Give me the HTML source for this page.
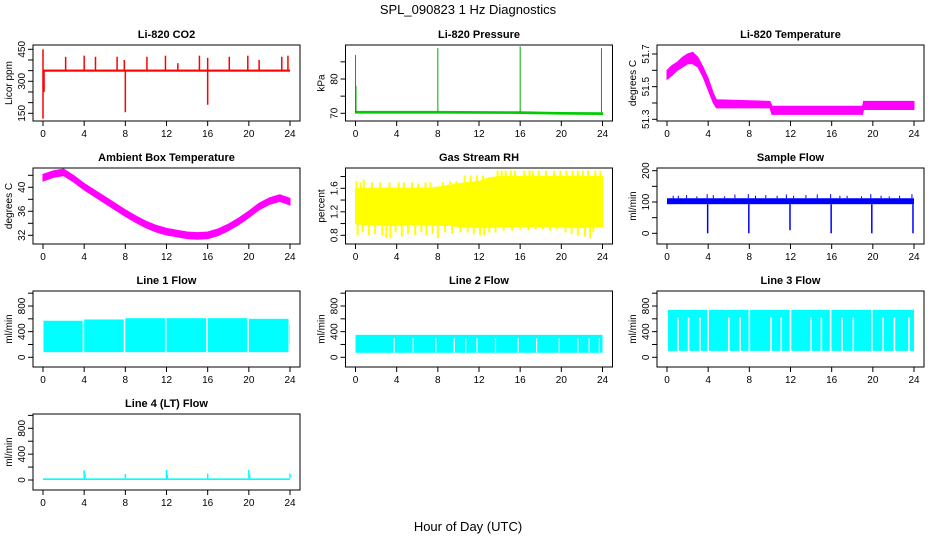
<!DOCTYPE html>
<html><head><meta charset="utf-8"><style>
html,body{margin:0;padding:0;background:#fff;}
svg{display:block;font-family:"Liberation Sans",Arial,sans-serif;}
</style></head><body>
<svg id="chart" width="936" height="540" viewBox="0 0 936 540" xmlns="http://www.w3.org/2000/svg">
<text x="468" y="14" text-anchor="middle" font-size="13">SPL_090823  1 Hz Diagnostics</text>
<text x="468" y="531" text-anchor="middle" font-size="13">Hour of Day (UTC)</text>
</svg>
<script>
// ---- data ----
const xTicks = [0,4,8,12,16,20,24];
// CO2
const co2Base = 350;
const co2UpHours = [0,2.2,4.0,5.1,7.2,7.9,10.1,11.9,13.1,15.2,16.0,18.1,19.9,21.0,23.2,23.8];
const co2UpValues = [450,415,420,415,415,400,415,420,385,420,410,415,420,400,415,420];
const co2DownHours = [0,0.1,8.0,16.0];
const co2DownValues = [125,250,155,190];
// Pressure
const presBase = [70.3,70.3,70.2,70.0,69.9];
const presBaseHours = [0,8,16,20,24];
const presSpikeHours = [0,0.05,8,16,23.9];
const presSpikeValues = [87,78,89,89.5,89];
// Li-820 temperature
const tempHours = [0,0.5,1,1.5,2,2.5,3,3.5,4,4.5,4.8,10,10.2,19,19.1,24];
const tempLo = [51.545,51.57,51.6,51.62,51.64,51.64,51.62,51.56,51.48,51.4,51.37,51.37,51.33,51.33,51.36,51.36];
const tempHi = [51.6,51.63,51.65,51.68,51.7,51.71,51.68,51.62,51.55,51.46,51.42,51.41,51.38,51.38,51.41,51.41];
// Ambient box temperature
const ambHours = [0,1,2,3,4,5,6,7,8,9,10,11,12,13,14,15,16,17,18,19,20,21,22,23,24];
const ambTemp = [41.6,42.2,42.5,41.4,40.1,39,37.9,36.8,35.7,34.7,33.8,33.1,32.6,32.3,32.0,31.9,32.0,32.5,33.3,34.3,35.5,36.8,37.7,38.2,37.6];
// RH
const rhHours = [0,1,2,3,4,5,6,7,8,9,10,11,12,13,14,15,16,17,18,19,20,21,22,23,24];
const rhCoreLo = [1.0,0.98,0.98,0.97,0.97,0.98,0.98,0.98,0.97,0.97,0.95,0.94,0.93,0.93,0.95,0.95,0.95,0.95,0.95,0.95,0.95,0.93,0.93,0.95,0.95];
const rhCoreHi = [1.6,1.6,1.6,1.6,1.6,1.6,1.6,1.6,1.62,1.65,1.68,1.7,1.72,1.78,1.8,1.8,1.8,1.8,1.8,1.8,1.8,1.8,1.8,1.8,1.8];
const rhUpHours = [0.1,0.5,0.8,1.6,2.4,3.3,4.2,4.7,5.5,6.1,6.8,7.3,8.5,9.2,9.8,10.6,11.2,11.8,12.4,13.8,14.2,14.6,15.1,15.5,16.4,16.9,17.2,17.8,18.5,19.3,19.9,20.5,21.1,21.6,22.1,22.6,23.3,23.8];
const rhUpValues = [1.72,1.7,1.75,1.7,1.7,1.7,1.7,1.7,1.7,1.68,1.7,1.7,1.7,1.72,1.72,1.82,1.82,1.82,1.82,1.9,1.9,1.9,1.9,1.9,1.9,1.9,1.9,1.9,1.9,1.9,1.9,1.9,1.9,1.9,1.9,1.9,1.9,1.9];
const rhDownHours = [0.2,0.7,1.3,1.9,2.6,3.0,3.4,3.9,4.5,5.1,5.8,6.4,6.9,7.5,8.0,8.7,9.4,10.2,10.9,11.5,12.1,12.5,13.0,13.6,14.4,15.2,16.0,16.8,17.5,18.2,18.9,19.6,20.4,21.0,21.6,22.3,22.8,23.1];
const rhDownValues = [0.8,0.85,0.8,0.82,0.8,0.75,0.75,0.85,0.78,0.82,0.8,0.85,0.8,0.82,0.75,0.85,0.82,0.85,0.85,0.82,0.8,0.8,0.85,0.85,0.88,0.88,0.9,0.88,0.9,0.9,0.88,0.9,0.85,0.82,0.8,0.78,0.75,0.85];
// Sample flow
const sfLo = 93, sfHi = 112;
const sfUpHours = [0.6,1.1,1.9,2.9,3.9,4.5,5.6,6.6,7.9,8.6,9.6,10.7,11.6,12.3,13.5,14.6,15.9,16.8,17.5,18.9,19.8,20.8,21.6,22.6,23.8];
const sfUpValues = [120,120,122,118,125,122,118,124,125,120,122,120,124,120,122,124,125,120,120,118,125,120,118,120,125];
const sfDropHours = [3.95,7.95,11.95,15.95,19.9,23.9];
const sfDropValues = [0,0,10,0,0,0];
// Line 1
const l1Start = [0.05,4.0,8.0,12.0,16.0,20.0,23.95];
const l1End = [3.85,7.85,11.85,15.85,19.85,23.85,24.0];
const l1Hi = [570,590,610,610,610,600,510];
const l1Lo = 80;
// Line 2
const l2Gaps = [3.75,5.6,7.8,9.6,10.7,11.8,13.6,15.8,17.6,19.8,21.6,22.7,23.7];
const l2Hi = 350, l2Lo = 70;
// Line 3
const l3Gaps = [1.07,2.1,3.2,4.0,6.0,7.1,8.0,10.1,11.1,12.0,14.0,15.0,15.9,17.0,18.1,19.9,21.0,22.1,23.5];
const l3Full = [4.0,8.0,12.0,15.9,19.9];
const l3Hi = 740, l3Lo = 100;
// Line 4
const l4Base = 25;
const l4SpikeHours = [4,4.08,8,12,12.08,16,20,20.08,24];
const l4SpikeValues = [150,90,95,155,80,100,155,85,100];

// ---- layout ----
const svg = document.getElementById('chart');
const NS = 'http://www.w3.org/2000/svg';
const colLeft = [33,345.5,657];
const rowTop = [45,168,291,414];
const BW = 267, BH = 76;
function mk(tag, attrs, parent){
  const e = document.createElementNS(NS, tag);
  for (const k in attrs) e.setAttribute(k, attrs[k]);
  (parent||svg).appendChild(e);
  return e;
}
function makePanel(id, col, row, title, ylab, cal, yTicks, yLabels){
  const g = mk('g', {});
  
  
  const L = colLeft[col], T = rowTop[row];
  const X = h => L + 10 + h * 247 / 24;
  const Y = v => cal[1] + (v - cal[0]) * (cal[3] - cal[1]) / (cal[2] - cal[0]);
  const t = mk('text', {x: L + BW/2, y: T - 7, 'text-anchor':'middle', 'font-size':11, 'font-weight':'bold'}, g);
  t.textContent = title;
  
  
  const yl = mk('text', {transform:`translate(${L-21},${T+BH/2}) rotate(-90)`, 'text-anchor':'middle', 'font-size':10}, g);
  yl.textContent = ylab;
  
  
  const plot = mk('g', {}, g);
  
  
  const axes = mk('g', {stroke:'#000', 'stroke-width':1, fill:'none'}, g);
  
  
  mk('rect', {x:L, y:T, width:BW, height:BH}, axes);
  xTicks.forEach(h => {
    mk('line', {x1:X(h), y1:T+BH, x2:X(h), y2:T+BH+5}, axes);
    const tx = mk('text', {x:X(h), y:T+BH+16, 'text-anchor':'middle', 'font-size':10, stroke:'none', fill:'#000'}, g);
    tx.textContent = h;
    
    
  });
  yTicks.forEach(v => {
    mk('line', {x1:L-5, y1:Y(v), x2:L, y2:Y(v)}, axes);
  });
  yLabels.forEach(v => {
    const ty = mk('text', {transform:`translate(${L-8},${Y(v)}) rotate(-90)`, 'text-anchor':'middle', 'font-size':10, fill:'#000'}, g);
    ty.textContent = v;
    
    
  });
  return {plot, X, Y};
}
function vline(p, h, v1, v2, color, w){
  const l = mk('line', {x1:p.X(h), x2:p.X(h), y1:p.Y(v1), y2:p.Y(v2), stroke:color, 'stroke-width':w||1.2}, p.plot);
  
  
}
function band(p, hs, lo, hi, color){
  let pts = hs.map((h,i) => p.X(h)+','+p.Y(hi[i]));
  for (let i = hs.length-1; i >= 0; i--) pts.push(p.X(hs[i])+','+p.Y(lo[i]));
  const pg = mk('polygon', {points: pts.join(' '), fill:color, stroke:color, 'stroke-width':1}, p.plot);
  
  
}
function rectBand(p, h1, h2, lo, hi, color){
  const r = mk('rect', {x:p.X(h1), y:p.Y(hi), width:p.X(h2)-p.X(h1), height:p.Y(lo)-p.Y(hi), fill:color}, p.plot);
  
  
}

// CO2
let p = makePanel('co2', 0, 0, 'Li-820 CO2', 'Licor ppm', [150,113.3,450,49.3], [150,200,250,300,350,400,450], [150,300,450]);
rectBand(p, 0, 24, co2Base-5, co2Base+5, '#ff0000');
co2UpHours.forEach((h,i) => vline(p, h, co2Base, co2UpValues[i], '#ff0000', 1.5));
co2DownHours.forEach((h,i) => vline(p, h, co2Base, co2DownValues[i], '#ff0000', 1.5));

// Pressure
p = makePanel('pressure', 1, 0, 'Li-820 Pressure', 'kPa', [70,113.3,80,79], [70,75,80,85], [70,80]);
band(p, presBaseHours, presBase.map(v=>v-0.25), presBase.map(v=>v+0.25), '#00cc00');
presSpikeHours.forEach((h,i) => vline(p, h, presBase[0], presSpikeValues[i], '#00aa00', 1));

// Li-820 temperature
p = makePanel('li820-temp', 2, 0, 'Li-820 Temperature', 'degrees C', [51.3,119.3,51.7,54], [51.3,51.4,51.5,51.6,51.7], [51.3,51.5,51.7]);
band(p, tempHours, tempLo, tempHi, '#ff00ff');

// Ambient
p = makePanel('ambient-temp', 0, 1, 'Ambient Box Temperature', 'degrees C', [32,235.3,40,187.3], [32,34,36,38,40,42], [32,36,40]);
band(p, ambHours, ambTemp.map(v=>v-0.55), ambTemp.map(v=>v+0.55), '#ff00ff');

// RH
p = makePanel('rh', 1, 1, 'Gas Stream RH', 'percent', [0.8,235.3,1.6,188.3], [0.8,1.0,1.2,1.4,1.6,1.8], [0.8,1.2,1.6]);
band(p, rhHours, rhCoreLo, rhCoreHi, '#ffff00');
rhUpHours.forEach((h,i) => vline(p, h, 1.4, rhUpValues[i], '#ffff00', 2));
rhDownHours.forEach((h,i) => vline(p, h, 1.2, rhDownValues[i], '#ffff00', 2));

// Sample flow
p = makePanel('sample-flow', 2, 1, 'Sample Flow', 'ml/min', [0,233.3,200,170.7], [0,50,100,150,200], [0,100,200]);
rectBand(p, 0, 24, sfLo, sfHi, '#0000ff');
sfUpHours.forEach((h,i) => vline(p, h, sfHi, sfUpValues[i], '#0000ff', 1));
sfDropHours.forEach((h,i) => vline(p, h, sfLo, sfDropValues[i], '#0000ff', 1.5));

// Line 1
p = makePanel('line1-flow', 0, 2, 'Line 1 Flow', 'ml/min', [0,357.3,800,306], [0,200,400,600,800,1000], [0,400,800]);
l1Start.forEach((s,i) => rectBand(p, s, l1End[i], (i===l1Start.length-1)?200:l1Lo, l1Hi[i], '#00ffff'));

// Line 2
p = makePanel('line2-flow', 1, 2, 'Line 2 Flow', 'ml/min', [0,357.3,800,306], [0,200,400,600,800,1000], [0,400,800]);
rectBand(p, 0, 24, l2Lo, l2Hi, '#00ffff');
l2Gaps.forEach(g => {
  const r = mk('rect', {x:p.X(g)-0.6, y:p.Y(300), width:1.2, height:p.Y(l2Lo-5)-p.Y(300), fill:'#fff'}, p.plot);
  
  
});

// Line 3
p = makePanel('line3-flow', 2, 2, 'Line 3 Flow', 'ml/min', [0,357.3,800,306], [0,200,400,600,800,1000], [0,400,800]);
rectBand(p, 0.1, 24, l3Lo, l3Hi, '#00ffff');
l3Gaps.forEach(g => {
  const top = l3Full.includes(g) ? l3Hi + 10 : 620;
  const r = mk('rect', {x:p.X(g)-0.8, y:p.Y(top), width:1.6, height:p.Y(l3Lo-5)-p.Y(top), fill:'#fff'}, p.plot);
  
  
});

// Line 4
p = makePanel('line4-flow', 0, 3, 'Line 4 (LT) Flow', 'ml/min', [0,480,800,428.3], [0,200,400,600,800,1000], [0,400,800]);
rectBand(p, 0, 24, 0, l4Base, '#00ffff');
l4SpikeHours.forEach((h,i) => vline(p, h, l4Base, l4SpikeValues[i], '#00ffff', 1.5));
</script>
</body></html>
